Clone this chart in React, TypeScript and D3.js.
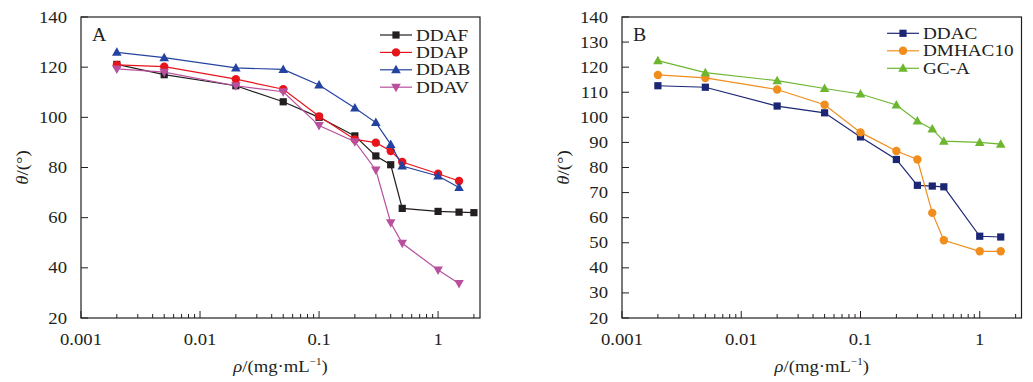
import React from "react";
import * as d3 from "d3";

const xA = [0.002, 0.005, 0.02, 0.05, 0.1, 0.2, 0.3, 0.4, 0.5, 1, 1.5, 2];
const DDAF = [121.1, 117.0, 112.6, 106.2, 100.0, 92.6, 84.6, 81.1, 63.7, 62.5, 62.2, 62.0];
const DDAP = [120.9, 120.2, 115.2, 111.2, 100.4, 91.2, 89.9, 86.6, 82.2, 77.5, 74.6];
const DDAB = [125.9, 123.8, 119.7, 119.1, 112.9, 103.7, 97.9, 89.2, 80.6, 76.6, 72.0];
const DDAV = [119.3, 118.0, 112.6, 110.2, 96.7, 90.3, 79.0, 58.0, 49.8, 39.1, 33.8];

const xB = [0.002, 0.005, 0.02, 0.05, 0.1, 0.2, 0.3, 0.4, 0.5, 1, 1.5];
const DDAC = [112.6, 112.0, 104.5, 101.8, 92.2, 83.2, 72.9, 72.6, 72.3, 52.6, 52.3];
const DMHAC10 = [116.9, 115.7, 111.1, 105.0, 94.0, 86.6, 83.2, 61.9, 51.0, 46.6, 46.6];
const GCA = [122.6, 117.8, 114.6, 111.5, 109.3, 104.9, 98.5, 95.3, 90.5, 90.0, 89.3];

const xTicks = [0.001, 0.01, 0.1, 1];
const xTickLabels = ["0.001", "0.01", "0.1", "1"];
const yTicksA = [20, 40, 60, 80, 100, 120, 140];
const yTicksB = [20, 30, 40, 50, 60, 70, 80, 90, 100, 110, 120, 130, 140];

type Series = { name: string; values: number[]; color: string; marker: string };

const seriesA: Series[] = [
  { name: "DDAF", values: DDAF, color: "#231f20", marker: "square" },
  { name: "DDAP", values: DDAP, color: "#e8141b", marker: "circle" },
  { name: "DDAB", values: DDAB, color: "#2443a0", marker: "triangle" },
  { name: "DDAV", values: DDAV, color: "#b8509e", marker: "triangleDown" },
];
const seriesB: Series[] = [
  { name: "DDAC", values: DDAC, color: "#1b2674", marker: "square" },
  { name: "DMHAC10", values: DMHAC10, color: "#f18d1c", marker: "circle" },
  { name: "GC-A", values: GCA, color: "#6cb72f", marker: "triangle" },
];

const FONT = "'Liberation Serif', 'Times New Roman', serif";
const SX = 1.1;

function T({ x, y, children, anchor = "start", size = 17, rotate = 0, sx = SX }: any) {
  const tr = rotate
    ? `translate(${x},${y}) rotate(${rotate}) scale(${sx},1)`
    : `translate(${x},${y}) scale(${sx},1)`;
  return (
    <text
      transform={tr}
      textAnchor={anchor}
      fontFamily={FONT}
      fontSize={size}
      fill="#231f20"
    >
      {children}
    </text>
  );
}

function Marker({ type, x, y, color }: any) {
  if (type === "square") return <rect x={x - 3.6} y={y - 3.6} width={7.2} height={7.2} fill={color} />;
  if (type === "circle") return <circle cx={x} cy={y} r={4.2} fill={color} />;
  if (type === "triangle")
    return <path d={`M${x},${y - 5} L${x + 4.8},${y + 3.5} L${x - 4.8},${y + 3.5} Z`} fill={color} />;
  return <path d={`M${x},${y + 5} L${x + 4.8},${y - 3.5} L${x - 4.8},${y - 3.5} Z`} fill={color} />;
}

function Panel({
  left, right, top, bottom, xDomainMax, xs, series, yTicks, tag, legendX, legendY, legendDy, yLabelX,
}: any) {
  const x = d3.scaleLog().domain([0.001, xDomainMax]).range([left, right]);
  const y = d3.scaleLinear().domain([20, 140]).range([bottom, top]);
  const minor: number[] = [];
  for (let d = 0.001; d < 10; d *= 10) {
    for (let k = 2; k <= 9; k++) {
      const v = k * d;
      if (v <= xDomainMax) minor.push(v);
    }
  }
  const line = d3.line<[number, number]>().x((d) => x(d[0])).y((d) => y(d[1]));
  return (
    <g>
      {series.map((s: Series) => {
        const pts: [number, number][] = s.values.map((v, i) => [xs[i], v]);
        return (
          <g key={s.name}>
            <path d={line(pts) || ""} fill="none" stroke={s.color} strokeWidth={1.2} />
            {pts.map((p, i) => (
              <Marker key={i} type={s.marker} x={x(p[0])} y={y(p[1])} color={s.color} />
            ))}
          </g>
        );
      })}
      <rect x={left} y={top} width={right - left} height={bottom - top} fill="none" stroke="#231f20" strokeWidth={1.2} />
      {minor.map((v, i) => (
        <line key={"m" + i} x1={x(v)} x2={x(v)} y1={bottom} y2={bottom - 4} stroke="#231f20" strokeWidth={1} />
      ))}
      {xTicks.map((v, i) => (
        <g key={"x" + i}>
          <line x1={x(v)} x2={x(v)} y1={bottom} y2={bottom - 7} stroke="#231f20" strokeWidth={1} />
          <T x={x(v)} y={bottom + 27} anchor="middle">{xTickLabels[i]}</T>
        </g>
      ))}
      {yTicks.map((v: number, i: number) => (
        <g key={"y" + i}>
          <line x1={left} x2={left + 7} y1={y(v)} y2={y(v)} stroke="#231f20" strokeWidth={1} />
          <T x={left - 14} y={y(v) + 5.5} anchor="end">{String(v)}</T>
        </g>
      ))}
      <T x={left + 11} y={top + 24} size={18}>{tag}</T>
      {series.map((s: Series, i: number) => {
        const ly = legendY + i * legendDy;
        return (
          <g key={"l" + s.name}>
            <line x1={legendX} x2={legendX + 32} y1={ly} y2={ly} stroke={s.color} strokeWidth={1.2} />
            <Marker type={s.marker} x={legendX + 16} y={ly} color={s.color} />
            <T x={legendX + 36} y={ly + 5.5} size={16} sx={1.2}>{s.name}</T>
          </g>
        );
      })}
      <T x={(left + right) / 2} y={bottom + 54} anchor="middle">
        <tspan fontStyle="italic">ρ</tspan>/(mg·mL<tspan fontSize={10} dy={-7}>−1</tspan><tspan dy={7}>)</tspan>
      </T>
      <T x={yLabelX} y={(top + bottom) / 2} anchor="middle" rotate={-90}>
        <tspan fontStyle="italic">θ</tspan>/(°)
      </T>
    </g>
  );
}

export default function App() {
  return (
    <svg width={1033} height={382} style={{ position: "absolute", left: 0, top: 0, background: "#fff" }}>
      <rect width={1033} height={382} fill="#fff" />
      <Panel
        left={81} right={480} top={17} bottom={318} xDomainMax={2.25}
        xs={xA} series={seriesA} yTicks={yTicksA} tag="A"
        legendX={380} legendY={35} legendDy={17.4} yLabelX={28}
      />
      <Panel
        left={622} right={1021.5} top={17} bottom={318} xDomainMax={2.24}
        xs={xB} series={seriesB} yTicks={yTicksB} tag="B"
        legendX={887} legendY={33.3} legendDy={17.5} yLabelX={569}
      />
    </svg>
  );
}
